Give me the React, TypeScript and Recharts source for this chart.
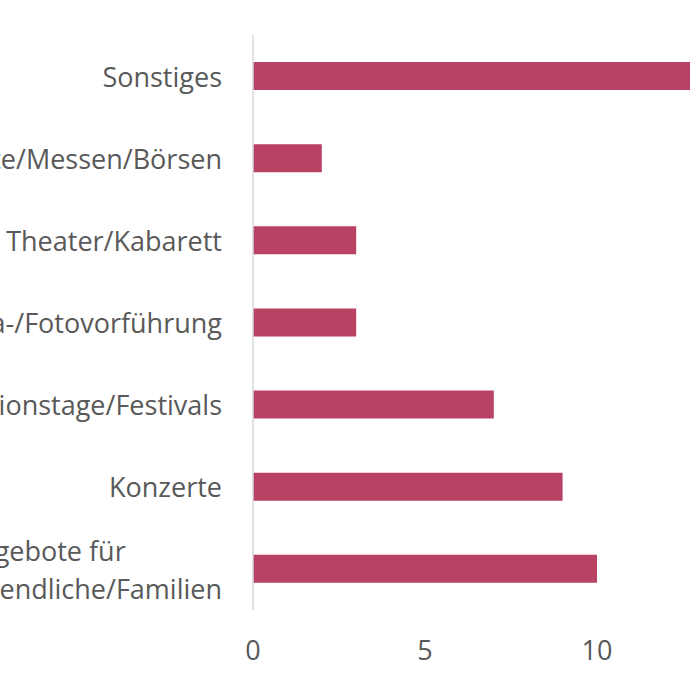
import { Bar, BarChart, XAxis, YAxis } from "recharts";

const categories = [
    "Sonstiges",
    "Märkte/Messen/Börsen",
    "Theater/Kabarett",
    "Dia-/Fotovorführung",
    "Aktionstage/Festivals",
    "Konzerte",
    "Angebote für\nJugendliche/Familien",
];
const counts = [14, 2, 3, 3, 7, 9, 10];
const xTicks = [0, 5, 10];

const FONT = "'Open Sans', sans-serif";
const FONT_SIZE = 27;
const TEXT_COLOR = "#595959";
const BAR_COLOR = "#b94264";

const data = categories.map((name, i) => ({ name, count: counts[i] }));

function measure(text: string) {
    const ctx = document.createElement("canvas").getContext("2d");
    if (!ctx) return text.length * FONT_SIZE * 0.55;
    ctx.font = `${FONT_SIZE}px 'Open Sans'`;
    return ctx.measureText(text).width;
}

const CategoryTick = (props: any) => {
    const { x, y, payload } = props;
    const lines = String(payload.value).split("\n");
    if (lines.length === 1) {
        return <text x={x} y={y} textAnchor="end" dominantBaseline="central"
            fill={TEXT_COLOR} fontSize={FONT_SIZE} fontFamily={FONT}>{lines[0]}</text>;
    }
    // wrapped label: lines left-aligned, block right edge at tick
    const widest = Math.max(...lines.map(measure));
    const lineHeight = 38;
    const top = y - ((lines.length - 1) * lineHeight) / 2;
    return <text x={x - widest} y={top} textAnchor="start" dominantBaseline="central"
        fill={TEXT_COLOR} fontSize={FONT_SIZE} fontFamily={FONT}>
        {lines.map((l, i) => <tspan key={i} x={x - widest} dy={i === 0 ? 0 : lineHeight}>{l}</tspan>)}
    </text>;
};

const App = () => {
    return <div style={{ position: "absolute", left: 0, top: 0, width: 690, height: 690, overflow: "hidden", background: "#fff" }}>
        <div style={{ position: "absolute", left: -150, top: 0 }}>
            <BarChart width={940} height={690} data={data} layout="vertical"
                margin={{ top: 35, right: 21, left: 33, bottom: 20 }} barSize={28}>
                <XAxis type="number" domain={[0, 15]} ticks={xTicks} height={60}
                    axisLine={false} tickLine={false} tickSize={0} tickMargin={31}
                    tick={{ fill: TEXT_COLOR, fontSize: FONT_SIZE, fontFamily: FONT }} />
                <YAxis type="category" dataKey="name" width={370}
                    axisLine={{ stroke: "#d9d9d9", strokeWidth: 1.5 }} tickLine={false}
                    tickSize={0} tickMargin={31} interval={0} tick={<CategoryTick />} />
                <Bar dataKey="count" fill={BAR_COLOR} isAnimationActive={false} />
            </BarChart>
        </div>
    </div>
}

export default App;
